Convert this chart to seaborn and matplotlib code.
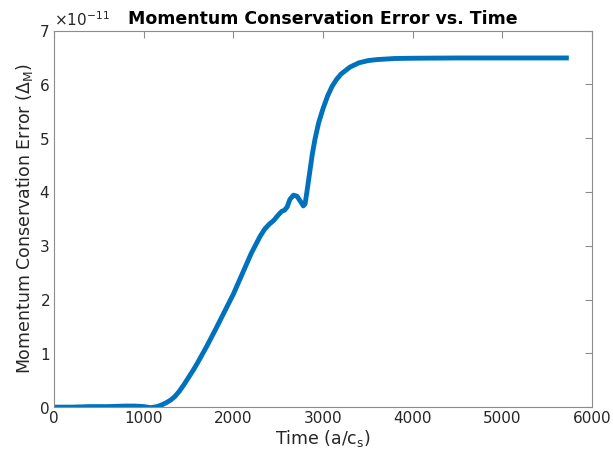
import numpy as np
import pandas as pd
import matplotlib
matplotlib.use("Agg")
import matplotlib.pyplot as plt
import matplotlib.ticker as mticker
import seaborn as sns

# Simulation time (a/c_s) and momentum conservation error (in units of 1e-11)
time = [0, 200, 400, 600, 800, 900, 1000, 1080, 1150, 1200, 1250, 1300, 1350,
        1400, 1450, 1500, 1550, 1600, 1700, 1800, 1900, 2000, 2100, 2200, 2300,
        2350, 2400, 2450, 2500, 2540, 2570, 2600, 2630, 2670, 2710, 2750, 2780,
        2800, 2820, 2850, 2880, 2910, 2950, 3000, 3050, 3100, 3150, 3200, 3300,
        3400, 3500, 3600, 3700, 3800, 4000, 4500, 5000, 5500, 5740]
error_e11 = [0.0, 0.0, 0.01, 0.01, 0.02, 0.02, 0.01, -0.01, 0.01, 0.04, 0.08,
             0.13, 0.20, 0.30, 0.42, 0.55, 0.68, 0.82, 1.12, 1.44, 1.77, 2.10,
             2.48, 2.86, 3.18, 3.31, 3.40, 3.47, 3.57, 3.64, 3.66, 3.72, 3.86,
             3.94, 3.92, 3.82, 3.74, 3.78, 4.00, 4.35, 4.70, 4.98, 5.28, 5.55,
             5.78, 5.96, 6.09, 6.19, 6.32, 6.40, 6.44, 6.46, 6.47, 6.48, 6.485,
             6.49, 6.49, 6.49, 6.49]
x_ticks = [0, 1000, 2000, 3000, 4000, 5000, 6000]
y_ticks = [0, 1, 2, 3, 4, 5, 6, 7]

df = pd.DataFrame({"time": time, "error": np.array(error_e11) * 1e-11})

sns.set_style("white")
plt.rcParams["font.family"] = ["DejaVu Sans"]
plt.rcParams["mathtext.fontset"] = "dejavusans"

fig = plt.figure(figsize=(6.13, 4.59), dpi=100)
ax = fig.add_axes([0.088, 0.113, 0.878, 0.8205])

sns.lineplot(data=df, x="time", y="error", ax=ax, color="#0072BD",
             linewidth=3.5, solid_capstyle="butt", solid_joinstyle="round")

ax.set_xlim(0, 6000)
ax.set_ylim(0, 7e-11)
ax.set_xticks(x_ticks)
ax.set_yticks([v * 1e-11 for v in y_ticks])

fmt = mticker.ScalarFormatter(useMathText=True)
fmt.set_powerlimits((0, 0))
ax.yaxis.set_major_formatter(fmt)
ax.yaxis.get_offset_text().set_fontsize(11)
ax.yaxis.get_offset_text().set_color("#262626")

edge = "#8c8c8c"
for s in ax.spines.values():
    s.set_visible(True)
    s.set_color(edge)
    s.set_linewidth(0.8)
ax.tick_params(direction="in", length=5, width=0.8, color=edge,
               labelsize=11, labelcolor="#262626", top=True, right=True,
               pad=3)

ax.set_xlabel("Time (a/c$_\\mathregular{s}$)", fontsize=12.5, color="#262626",
              labelpad=1)
ax.set_ylabel("Momentum Conservation Error ($\\Delta_\\mathregular{M}$)",
              fontsize=12.5, color="#262626", labelpad=3)
ax.set_title("Momentum Conservation Error vs. Time", fontsize=12.5,
             fontweight="bold", color="black", pad=5)

fig.savefig("out.png", dpi=100, facecolor="white")
